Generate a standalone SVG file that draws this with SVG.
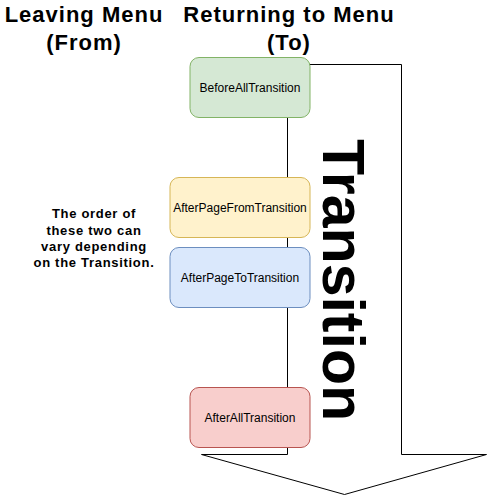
<svg xmlns="http://www.w3.org/2000/svg" width="492" height="497" viewBox="0 0 492 497">
<style>
.h{font-family:"Liberation Sans",Arial,sans-serif;font-weight:bold;font-size:22px;letter-spacing:1px;text-anchor:middle;fill:#000}
.n{font-family:"Liberation Sans",Arial,sans-serif;font-weight:bold;font-size:13px;letter-spacing:0.7px;text-anchor:middle;fill:#000}
.b{font-family:"Liberation Sans",Arial,sans-serif;font-size:12px;text-anchor:middle;fill:#000}
.big{font-family:"Liberation Sans",Arial,sans-serif;font-weight:bold;font-size:59px;text-anchor:middle;fill:#000}
</style>
<rect width="492" height="497" fill="#fff"/>
<g id="connectors">
<polygon id="transition-arrow" points="287.5,64.5 401.5,64.5 401.5,454.5 486.5,454.5 344.5,494.5 201.5,454.5 287.5,454.5" fill="#fff" stroke="#000" stroke-width="1"/>
</g>
<g id="transition-label"><text class="big" transform="translate(322.5,280) rotate(90)">Transition</text></g>
<g id="heading-from"><text class="h" x="84" y="22">Leaving Menu</text><text class="h" x="84" y="50">(From)</text></g>
<g id="heading-to"><text class="h" x="289" y="22">Returning to Menu</text><text class="h" x="289" y="50">(To)</text></g>
<g id="note"><text class="n" x="94" y="218">The order of</text><text class="n" x="94" y="234.5">these two can</text><text class="n" x="94" y="250.5">vary depending</text><text class="n" x="94" y="267">on the Transition.</text></g>
<g id="before-all"><rect x="190" y="57.5" width="120" height="60" rx="9" fill="#d5e8d4" stroke="#82b366"/><text class="b" x="250" y="92">BeforeAllTransition</text></g>
<g id="after-page-from"><rect x="170" y="177.5" width="140" height="60" rx="9" fill="#fff2cc" stroke="#d6b656"/><text class="b" x="240" y="212">AfterPageFromTransition</text></g>
<g id="after-page-to"><rect x="170" y="247.5" width="140" height="60" rx="9" fill="#dae8fc" stroke="#6c8ebf"/><text class="b" x="240" y="282">AfterPageToTransition</text></g>
<g id="after-all"><rect x="190" y="387.5" width="120" height="60" rx="9" fill="#f8cecc" stroke="#b85450"/><text class="b" x="250" y="422">AfterAllTransition</text></g>
</svg>
